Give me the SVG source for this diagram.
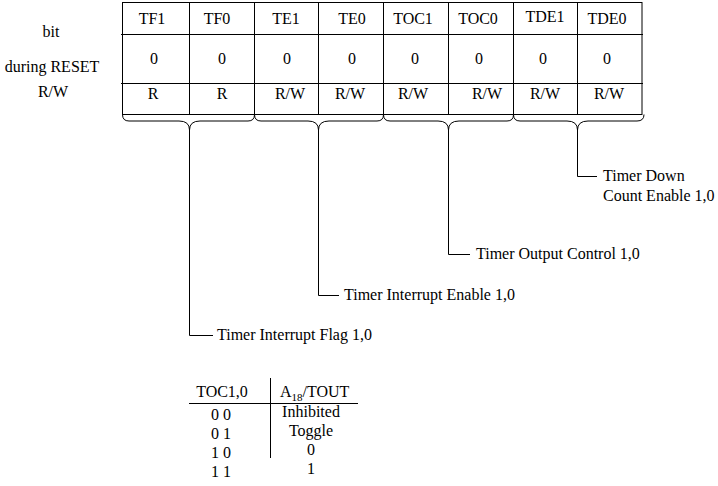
<svg xmlns="http://www.w3.org/2000/svg" width="718" height="486" viewBox="0 0 718 486">
<style>
text{font-family:"Liberation Serif","Times New Roman",serif;font-size:16px;fill:#000}
.c{text-anchor:middle}
.ln{stroke:#000;stroke-width:1;fill:none}
.sub{font-size:11px}
</style>
<rect width="718" height="486" fill="#fff"/>
<g id="row-labels">
<text class="c" x="51" y="37">bit</text>
<text class="c" x="52" y="72">during RESET</text>
<text class="c" x="53" y="97">R/W</text>
</g>
<g id="register">
<rect class="ln" x="122.5" y="2.5" width="519.5" height="112"/>
<path class="ln" d="M121 34.5H643M121 83.5H643M189.5 2V114M254.5 2V114M318.5 2V114M383.5 2V114M448.5 2V114M513.5 2V114M577.5 2V114"/>
<text class="c" x="152" y="24">TF1</text>
<text class="c" x="217" y="24">TF0</text>
<text class="c" x="286" y="24">TE1</text>
<text class="c" x="352" y="24">TE0</text>
<text class="c" x="413" y="24">TOC1</text>
<text class="c" x="478" y="24">TOC0</text>
<text class="c" x="545" y="22">TDE1</text>
<text class="c" x="607" y="24">TDE0</text>
<text class="c" x="154" y="64">0</text>
<text class="c" x="222" y="64">0</text>
<text class="c" x="287" y="64">0</text>
<text class="c" x="352" y="64">0</text>
<text class="c" x="415" y="64">0</text>
<text class="c" x="479" y="64">0</text>
<text class="c" x="543" y="64">0</text>
<text class="c" x="607" y="64">0</text>
<text class="c" x="153" y="99">R</text>
<text class="c" x="222" y="99">R</text>
<text class="c" x="290" y="99">R/W</text>
<text class="c" x="350" y="99">R/W</text>
<text class="c" x="413" y="99">R/W</text>
<text class="c" x="487" y="99">R/W</text>
<text class="c" x="545" y="99">R/W</text>
<text class="c" x="609" y="99">R/W</text>
</g>
<g id="connectors" class="ln">
<path d="M122.5 114.5Q122.5 121 129 121H179Q189.5 121 189.5 130Q189.5 121 200 121H248Q254.5 121 254.5 114.5"/>
<path d="M254.5 114.5Q254.5 121 261 121H308Q318.5 121 318.5 130Q318.5 121 329 121H377Q383.5 121 383.5 114.5"/>
<path d="M383.5 114.5Q383.5 121 390 121H438Q448.5 121 448.5 130Q448.5 121 459 121H507Q513.5 121 513.5 114.5"/>
<path d="M513.5 114.5Q513.5 121 520 121H567Q577.5 121 577.5 130Q577.5 121 588 121H637Q644 121 644 114.5"/>
<path d="M189.5 130V335.5H213"/>
<path d="M318.5 130V295.5H339"/>
<path d="M448.5 130V254.5H470"/>
<path d="M577.5 130V176.5H597"/>
</g>
<g id="label-tdc"><text x="603" y="181">Timer Down</text><text x="603" y="201">Count Enable 1,0</text></g>
<g id="label-toc"><text x="476" y="259">Timer Output Control 1,0</text></g>
<g id="label-tie"><text x="344" y="300">Timer Interrupt Enable 1,0</text></g>
<g id="label-tif"><text x="217" y="340">Timer Interrupt Flag 1,0</text></g>
<g id="toc-table">
<path class="ln" d="M270.5 378V458M189 403.5H358"/>
<text class="c" x="222" y="397">TOC1,0</text>
<text x="280" y="397">A<tspan class="sub" dy="4">18</tspan><tspan dy="-4">/TOUT</tspan></text>
<text class="c" x="221" y="420">0 0</text>
<text class="c" x="221" y="439">0 1</text>
<text class="c" x="221" y="458">1 0</text>
<text class="c" x="221" y="477">1 1</text>
<text class="c" x="311" y="417">Inhibited</text>
<text class="c" x="311" y="436">Toggle</text>
<text class="c" x="311" y="455">0</text>
<text class="c" x="311" y="474">1</text>
</g>
</svg>
